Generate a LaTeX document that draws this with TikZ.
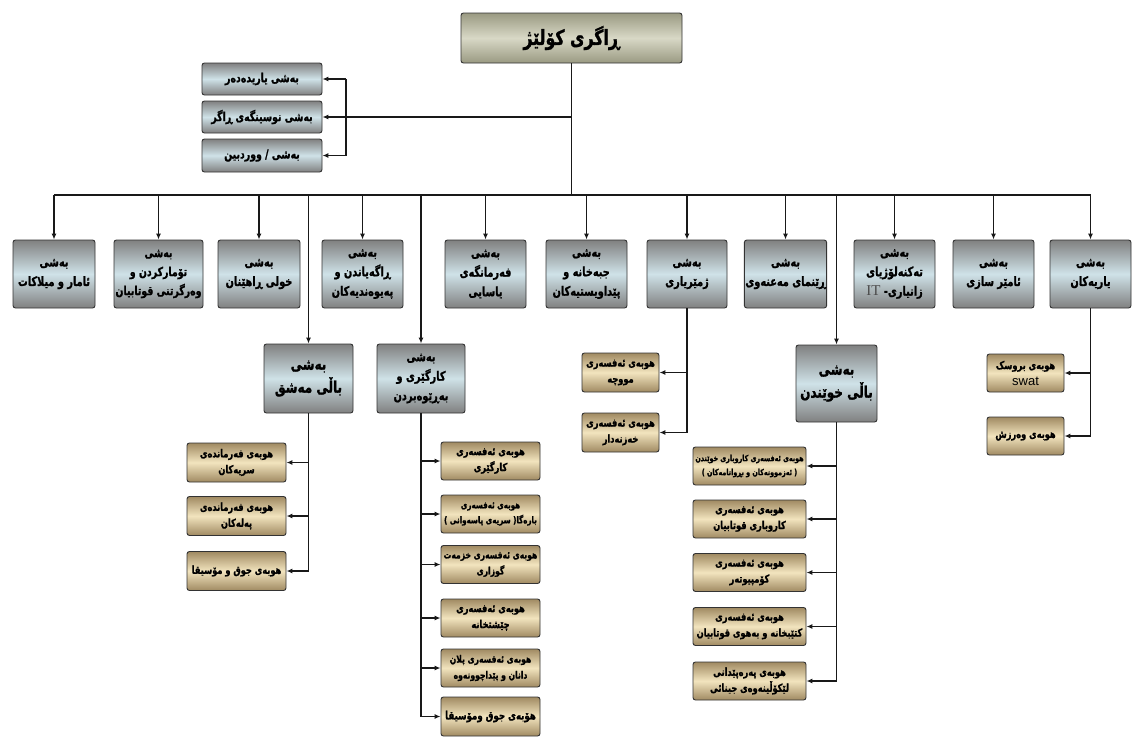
\documentclass[tikz,border=0pt]{standalone}
\usepackage{fontspec}
\usetikzlibrary{arrows.meta}
\TeXXeTstate=1
\newfontfamily\arabicfont[Script=Arabic, FakeStretch=0.75, BoldFeatures={FakeBold=1.2}]{DejaVu Sans}
\newfontfamily\latinserif{Liberation Serif}
\newfontfamily\latinsans{Liberation Sans}
\newcommand\kl[1]{\beginR #1\endR}
\definecolor{boxgray}{HTML}{808080}
\definecolor{boxblue}{HTML}{CFE2E8}
\definecolor{tantop}{HTML}{A08A62}
\definecolor{tanmid}{HTML}{F2E4BE}
\definecolor{roottop}{HTML}{9A9A82}
\definecolor{rootmid}{HTML}{D8D8C6}
\begin{document}
\begin{tikzpicture}[x=1pt,y=-1pt,
  wh/.style 2 args={minimum width=#1pt, minimum height=#2pt},
  box/.style={draw=black!80, line width=0.9pt, rounded corners=2.5pt, align=center, inner sep=1pt, text=black},
  graybox/.style={box, top color=boxgray, bottom color=boxgray, middle color=boxblue, font=\arabicfont\bfseries\fontsize{13}{19.5}\selectfont},
  leftbox/.style={graybox, font=\arabicfont\bfseries\fontsize{12.5}{14}\selectfont},
  bigbox/.style={graybox, font=\arabicfont\bfseries\fontsize{16}{23}\selectfont},
  tanbox/.style={box, top color=tantop, bottom color=tantop, middle color=tanmid, font=\arabicfont\bfseries\fontsize{11}{16}\selectfont},
  smalltan/.style={tanbox, font=\arabicfont\bfseries\fontsize{10.2}{16}\selectfont},
  rootbox/.style={box, top color=roottop, bottom color=roottop, middle color=rootmid, font=\arabicfont\bfseries\fontsize{21}{24}\selectfont},
  conn/.style={draw=black!90, line width=1.2pt},
  arr/.style={-{Latex[length=6pt,width=5pt]}}]
\useasboundingbox (0,0) rectangle (1141,744);
\fill[white] (0,0) rectangle (1141,744);

% root
\node[rootbox, wh={221}{50}] (root) at (571.5,38) {\kl{ڕاگری کۆلێژ}};

% left boxes
\node[leftbox, wh={120}{32}] (l1) at (262,79) {\kl{بەشی یاریدەدەر}};
\node[leftbox, wh={120}{32}] (l2) at (262,117) {\kl{بەشی نوسینگەی ڕاگر}};
\node[leftbox, wh={120}{33}] (l3) at (262,155.5) {\kl{بەشی / ووردبین}};

% top row
\node[graybox, wh={82}{68}] (t1) at (54,274) {\kl{بەشی}\\\kl{ئامار و میلاکات}};
\node[graybox, wh={89}{68}, font=\arabicfont\bfseries\fontsize{12.5}{19}\selectfont] (t2) at (158.5,274) {\kl{بەشی}\\\kl{تۆمارکردن و}\\\kl{وەرگرتنی قوتابیان}};
\node[graybox, wh={82}{68}] (t3) at (259,274) {\kl{بەشی}\\\kl{خولی ڕاهێنان}};
\node[graybox, wh={81}{68}] (t4) at (362.5,274) {\kl{بەشی}\\\kl{ڕاگەیاندن و}\\\kl{پەیوەندیەکان}};
\node[graybox, wh={81}{68}] (t5) at (485.5,274) {\kl{بەشی}\\\kl{فەرمانگەی}\\\kl{یاسایی}};
\node[graybox, wh={81}{68}] (t6) at (586.5,274) {\kl{بەشی}\\\kl{جبەخانە و}\\\kl{پێداویستیەکان}};
\node[graybox, wh={80}{68}] (t7) at (687,274) {\kl{بەشی}\\\kl{ژمێریاری}};
\node[graybox, wh={81}{68}] (t8) at (785.5,274) {\kl{بەشی}\\\kl{ڕێنمای مەعنەوی}};
\node[graybox, wh={81}{68}] (t9) at (894.5,274) {\kl{بەشی}\\\kl{تەکنەلۆژیای}\\\kl{زانیاری- \beginL{\latinserif\mdseries\color{black!70}\fontsize{15}{17}\selectfont IT}\endL}};
\node[graybox, wh={81}{68}] (t10) at (993.5,274) {\kl{بەشی}\\\kl{ئامێر سازی}};
\node[graybox, wh={81}{68}] (t11) at (1090.5,274) {\kl{بەشی}\\\kl{یاریەکان}};

% lower departments
\node[bigbox, wh={89}{69}] (m) at (308.5,378.5) {\kl{بەشی}\\\kl{باڵی مەشق}};
\node[graybox, wh={88}{69}] (k) at (421,378.5) {\kl{بەشی}\\\kl{کارگێری و}\\\kl{بەڕێوەبردن}};
\node[bigbox, wh={81}{77}] (xw) at (836.5,383.5) {\kl{بەشی}\\\kl{باڵی خوێندن}};

% children of m
\node[tanbox, wh={99}{39}] (m1) at (236.5,462.5) {\kl{هوبەی فەرماندەی}\\\kl{سریەکان}};
\node[tanbox, wh={99}{39}] (m2) at (236.5,516) {\kl{هوبەی فەرماندەی}\\\kl{پەلەکان}};
\node[tanbox, wh={99}{39}] (m3) at (236.5,571) {\kl{هوبەی جوق و مۆسیقا}};

% children of k
\node[tanbox, wh={99}{38}] (k1) at (490.5,461) {\kl{هوبەی ئەفسەری}\\\kl{کارگێری}};
\node[tanbox, wh={99}{38}, font=\arabicfont\bfseries\fontsize{9.5}{15}\selectfont] (k2) at (490.5,514) {\kl{هوبەی ئەفسەری}\\\kl{بارەگا( سریەی پاسەوانی )}};
\node[smalltan, wh={99}{38}] (k3) at (490.5,564.5) {\kl{هوبەی ئەفسەری خزمەت}\\\kl{گوزاری}};
\node[tanbox, wh={99}{38}] (k4) at (490.5,618) {\kl{هوبەی ئەفسەری}\\\kl{چێشتخانە}};
\node[smalltan, wh={99}{38}] (k5) at (490.5,668) {\kl{هوبەی ئەفسەری پلان}\\\kl{دانان و پێداچوونەوە}};
\node[tanbox, wh={99}{39}, font=\arabicfont\bfseries\fontsize{11.5}{14}\selectfont] (k6) at (490.5,716.5) {\kl{هۆبەی جوق ومۆسیقا}};

% children of t7
\node[tanbox, wh={77}{39}] (z1) at (620.5,372.5) {\kl{هوبەی ئەفسەری}\\\kl{مووچە}};
\node[tanbox, wh={77}{39}] (z2) at (620.5,432.5) {\kl{هوبەی ئەفسەری}\\\kl{خەزنەدار}};

% children of xw
\node[tanbox, wh={113}{38}, font=\arabicfont\bfseries\fontsize{8.5}{14}\selectfont] (x1) at (749.5,466) {\kl{هوبەی ئەفسەری کاروباری خوێندن}\\\kl{( ئەزموونەکان و بڕوانامەکان )}};
\node[tanbox, wh={113}{38}] (x2) at (749.5,519) {\kl{هوبەی ئەفسەری}\\\kl{کاروباری قوتابیان}};
\node[tanbox, wh={113}{38}] (x3) at (749.5,572.5) {\kl{هوبەی ئەفسەری}\\\kl{کۆمپیوتەر}};
\node[tanbox, wh={113}{38}] (x4) at (749.5,626.5) {\kl{هوبەی ئەفسەری}\\\kl{کتێبخانە و بەهوی قوتابیان}};
\node[tanbox, wh={113}{38}] (x5) at (749.5,681) {\kl{هوبەی پەرەپێدانی}\\\kl{لێکۆڵینەوەی جینائی}};

% children of t11
\node[tanbox, wh={77}{38}] (y1) at (1025.5,373) {\kl{هوبەی بروسک}\\{\latinsans\mdseries\fontsize{13}{13}\selectfont swat}};
\node[tanbox, wh={77}{38}] (y2) at (1025.5,436) {\kl{هوبەی وەرزش}};

% connectors
\coordinate (busy) at (0,195);
\coordinate (br) at (346,117);
\draw[conn] (root.south) -- (root.south |- busy);
\draw[conn] (t1.north |- busy) -- (t11.north |- busy);
\foreach \n in {t1,t2,t3,t4,t5,t6,t7,t8,t9,t10,t11,m,k,xw}
  \draw[conn,arr] (\n.north |- busy) -- (\n.north);
\draw[conn] (root.south |- br) -- (br);
\draw[conn] (br |- l1.east) -- (br |- l3.east);
\foreach \n in {l1,l2,l3}
  \draw[conn,arr] (br |- \n.east) -- (\n.east);
\draw[conn] (m.south) -- (m.south |- m3.east);
\foreach \n in {m1,m2,m3}
  \draw[conn,arr] (m.south |- \n.east) -- (\n.east);
\draw[conn] (k.south) -- (k.south |- k6.west);
\foreach \n in {k1,k2,k3,k4,k5,k6}
  \draw[conn,arr] (k.south |- \n.west) -- (\n.west);
\draw[conn] (t7.south) -- (t7.south |- z2.east);
\foreach \n in {z1,z2}
  \draw[conn,arr] (t7.south |- \n.east) -- (\n.east);
\draw[conn] (xw.south) -- (xw.south |- x5.east);
\foreach \n in {x1,x2,x3,x4,x5}
  \draw[conn,arr] (xw.south |- \n.east) -- (\n.east);
\draw[conn] (t11.south) -- (t11.south |- y2.east);
\foreach \n in {y1,y2}
  \draw[conn,arr] (t11.south |- \n.east) -- (\n.east);
\end{tikzpicture}
\end{document}
